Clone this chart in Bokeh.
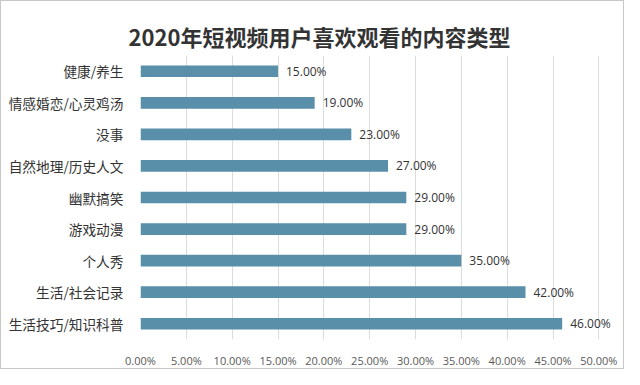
from bokeh.plotting import figure
from bokeh.models import ColumnDataSource, FixedTicker, PrintfTickFormatter, FactorRange, Range1d
from bokeh.core.properties import value
from bokeh.embed import file_html
from bokeh.resources import INLINE

categories = ["健康/养生", "情感婚恋/心灵鸡汤", "没事", "自然地理/历史人文", "幽默搞笑",
              "游戏动漫", "个人秀", "生活/社会记录", "生活技巧/知识科普"]
values = [15, 19, 23, 27, 29, 29, 35, 42, 46]
x_ticks = [0, 5, 10, 15, 20, 25, 30, 35, 40, 45, 50]

labels = [f"{v:.2f}%" for v in values]
src = ColumnDataSource(dict(cat=categories, val=values, lab=labels))

p = figure(width=624, height=369, output_backend="svg", toolbar_location=None,
           y_range=FactorRange(factors=list(reversed(categories))),
           x_range=Range1d(0, 52.8),
           min_border_left=139, min_border_right=1, min_border_top=54, min_border_bottom=23)

p.title.text = "2020年短视频用户喜欢观看的内容类型"
p.title.align = "left"
p.title.offset = -12
p.title.text_font = "Noto Sans CJK SC"
p.title.text_font_size = "22px"
p.title.text_font_style = "bold"
p.title.text_color = "#333333"
p.title.standoff = 8

p.hbar(y="cat", right="val", left=0, height=0.37, source=src, color="#5A8FAA", line_color=None)
p.text(x="val", y="cat", text="lab", source=src, x_offset=8, text_baseline="middle",
       text_font=value("Open Sans"), text_font_size="12px", text_color="#333333")

p.xaxis.ticker = FixedTicker(ticks=x_ticks)
p.xaxis.formatter = PrintfTickFormatter(format="%.2f%%")
p.xaxis.major_label_text_font = "Open Sans"
p.xaxis.major_label_text_font_size = "11px"
p.xaxis.major_label_text_color = "#595959"
p.xaxis.major_label_standoff = 7
p.yaxis.major_label_text_font = "Noto Sans CJK SC"
p.yaxis.major_label_text_font_size = "13.7px"
p.yaxis.major_label_text_color = "#333333"
p.yaxis.major_label_standoff = 11
for ax in (p.xaxis, p.yaxis):
    ax.axis_line_color = None
    ax.major_tick_line_color = None
    ax.minor_tick_line_color = None

p.xgrid.grid_line_color = "#dcdcdc"
p.ygrid.grid_line_color = None
p.outline_line_color = None
p.styles = {"border": "1px solid #c8c8c8"}

open("out.html", "w").write(file_html(p, INLINE))
